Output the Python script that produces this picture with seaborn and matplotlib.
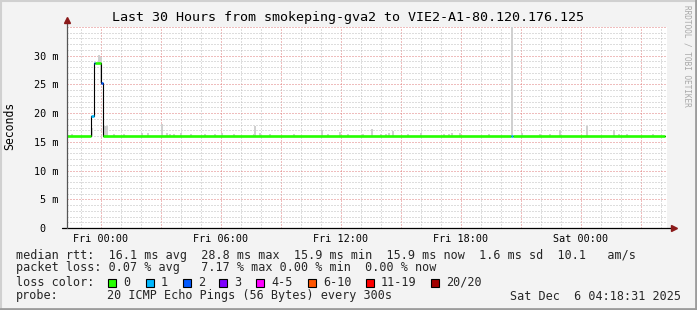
import matplotlib
matplotlib.use("Agg")
import matplotlib.pyplot as plt
import seaborn as sns
import pandas as pd
import numpy as np
from matplotlib.ticker import MultipleLocator, FuncFormatter
from matplotlib.patches import Rectangle
from matplotlib.lines import Line2D
import datetime as dt

# ---------------- data ----------------
# hours relative to Fri 2025-12-05 00:00
x_start, x_end = -1.69, 28.31
y_max = 35.0  # ms

# median rtt step series (segment start times, values in ms, loss count per segment)
med_t = [-1.69, -0.475, -0.365, -0.28, 0.015, 0.085, 20.50, 20.60, 28.20]
med_v = [16.0, 19.5, 28.8, 28.8, 25.3, 16.0, 16.0, 16.0, 16.0]
med_loss = [0, 1, 2, 0, 2, 0, 1, 0, 0]

# smoke (ping spread) bars: time (h), low (ms), high (ms)
smoke_t = [-1.45, -0.45, -0.10, 0.00, 0.20, 0.30, 0.65, 1.15, 2.05, 2.35, 3.05, 3.30,
           3.45, 3.65, 4.00, 4.50, 5.20, 5.70, 6.05, 6.65, 7.65, 7.70, 7.95, 8.45,
           9.65, 11.05, 11.35, 11.95, 12.35, 13.10, 13.55, 14.00, 14.25, 14.40,
           14.60, 15.35, 16.00, 17.15, 17.40, 17.55, 17.95, 19.40, 20.55, 21.05,
           21.95, 22.45, 22.95, 24.30, 25.65, 25.90, 26.30, 27.60]
smoke_lo = [16.0, 16.0, 28.8, 25.3, 16.0, 16.0, 16.0, 16.0, 16.0, 16.0, 16.0, 16.0,
            16.0, 16.0, 16.0, 16.0, 16.0, 16.0, 16.0, 16.0, 16.0, 16.0, 16.0, 16.0,
            16.0, 16.0, 16.0, 16.0, 16.0, 16.0, 16.0, 16.0, 16.0, 16.0,
            16.0, 16.0, 16.0, 16.0, 16.0, 16.0, 16.0, 16.0, 16.0, 16.0,
            16.0, 16.0, 16.0, 16.0, 16.0, 16.0, 16.0, 16.0]
smoke_hi = [16.45, 17.4, 30.2, 29.8, 17.7, 17.7, 16.45, 16.45, 16.55, 16.6, 18.05, 16.6,
            16.3, 16.3, 16.55, 16.45, 16.45, 16.45, 16.6, 16.3, 16.45, 17.7, 16.55, 16.3,
            16.3, 17.1, 16.3, 16.7, 16.3, 16.45, 17.2, 16.45, 16.45, 16.55,
            16.9, 16.45, 16.55, 16.45, 16.45, 16.55, 16.55, 16.45, 40.0, 16.6,
            16.45, 16.3, 17.0, 17.8, 17.0, 16.45, 16.45, 16.45]

loss_labels = ["0", "1", "2", "3", "4-5", "6-10", "11-19", "20/20"]
loss_colors = ["#26ff00", "#00b8ff", "#0059ff", "#7e00ff", "#ff00ff", "#ff5500", "#ff0000", "#a10000"]
seg_colors = {0: "#26ff00", 1: "#00b8ff", 2: "#0059ff"}

title = "Last 30 Hours from smokeping-gva2 to VIE2-A1-80.120.176.125"
stats_line1 = "median rtt:  16.1 ms avg  28.8 ms max  15.9 ms min  15.9 ms now  1.6 ms sd  10.1   am/s"
stats_line2 = "packet loss: 0.07 % avg   7.17 % max 0.00 % min  0.00 % now"
probe_text = "20 ICMP Echo Pings (56 Bytes) every 300s"
stamp_text = "Sat Dec  6 04:18:31 2025"

# ---------------- figure ----------------
sns.set_theme(style="white")
plt.rcParams["font.family"] = ["DejaVu Sans Mono", "DejaVu Sans"]

W, H = 697, 310
fig = plt.figure(figsize=(W / 100, H / 100), dpi=100, facecolor="#f3f3f3")
ax = fig.add_axes([67 / W, (H - 228) / H, 600 / W, (228 - 27) / H])
ax.set_facecolor("white")
ax.set_xlim(x_start, x_end)
ax.set_ylim(0, y_max)

# grid
ax.xaxis.set_major_locator(MultipleLocator(3))
ax.xaxis.set_minor_locator(MultipleLocator(1))
ax.yaxis.set_major_locator(MultipleLocator(5))
ax.yaxis.set_minor_locator(MultipleLocator(1))
ax.grid(which="minor", color="#bdbdbd", linestyle=(0, (1, 2)), linewidth=0.72)
ax.grid(which="major", color="#e07c7c", linestyle=(0, (1, 2)), linewidth=0.72)
ax.set_axisbelow(True)

base = dt.datetime(2025, 12, 5)


def xfmt(v, pos):
    if abs(v - round(v)) > 1e-6 or int(round(v)) % 6 != 0:
        return ""
    d = base + dt.timedelta(hours=int(round(v)))
    return d.strftime("%a %H:%M")


def yfmt(v, pos):
    iv = int(round(v))
    if iv >= y_max:
        return ""
    if iv == 0:
        return "0  "
    return f"{iv} m"


ax.xaxis.set_major_formatter(FuncFormatter(xfmt))
ax.yaxis.set_major_formatter(FuncFormatter(yfmt))
ax.tick_params(axis="x", which="both", length=0, labelsize=7.3, pad=4, colors="black")
ax.tick_params(axis="y", which="major", length=3, width=0.8, color="#444444",
               labelsize=7.3, pad=3, labelcolor="black")
ax.tick_params(axis="y", which="minor", length=1.5, width=0.6, color="#888888")
for s in ax.spines.values():
    s.set_visible(False)

# smoke bars
smoke = pd.DataFrame({"t": smoke_t, "lo": smoke_lo, "hi": smoke_hi})
ax.bar(smoke["t"], smoke["hi"] - smoke["lo"], bottom=smoke["lo"], width=0.1,
       color="#d0d0d0", linewidth=0, zorder=2)

# median step line (black)
med = pd.DataFrame({"t": med_t, "v": med_v})
sns.lineplot(data=med, x="t", y="v", ax=ax, estimator=None, drawstyle="steps-post",
             color="black", linewidth=0.8, zorder=3, legend=False)

# loss-colored median segments
for i in range(len(med_t) - 1):
    ax.hlines(med_v[i], med_t[i], med_t[i + 1], colors=seg_colors[med_loss[i]],
              linewidth=1.9, zorder=4, capstyle="butt")

ax.set_xlabel("")
ax.set_ylabel("")

# axis lines with arrows
fig.add_artist(Line2D([62 / W, 672 / W], [(H - 228) / H] * 2, color="black", lw=0.9))
fig.add_artist(Line2D([67 / W] * 2, [(H - 228) / H, (H - 22) / H], color="#555555", lw=0.9))
fig.add_artist(Line2D([674 / W], [(H - 228) / H], marker=">", color="#8b1a1a",
                      markersize=5, linestyle="none"))
fig.add_artist(Line2D([67 / W], [(H - 20) / H], marker="^", color="#8b1a1a",
                      markersize=5, linestyle="none"))

# texts
fig.text(0.5, 1 - 18 / H, title, ha="center", va="center", fontsize=9.6, color="black")
fig.text(10 / W, 1 - 126 / H, "Seconds", rotation=90, ha="center", va="center",
         fontsize=8.3, color="black")
fig.text(687 / W, 1 - 5 / H, "RRDTOOL / TOBI OETIKER", rotation=-90, ha="center", va="top",
         fontsize=5.6, color="#a8a8a8")

fs = 8.5
fig.text(16 / W, 1 - 255 / H, stats_line1, ha="left", va="center", fontsize=fs)
fig.text(16 / W, 1 - 268 / H, stats_line2, ha="left", va="center", fontsize=fs)
fig.text(16 / W, 1 - 282 / H, "loss color:", ha="left", va="center", fontsize=fs)
fig.text(16 / W, 1 - 296 / H, "probe:", ha="left", va="center", fontsize=fs)
fig.text(107 / W, 1 - 296 / H, probe_text, ha="left", va="center", fontsize=fs)
fig.text(681 / W, 1 - 296 / H, stamp_text, ha="right", va="center", fontsize=fs)

sq_x = [108, 146, 183, 219, 256, 308, 366, 431]
for sx, lab, col in zip(sq_x, loss_labels, loss_colors):
    fig.add_artist(Rectangle((sx / W, (H - 286.5) / H), 8 / W, 8 / H, facecolor=col,
                             edgecolor="black", linewidth=0.8))
    fig.text((sx + 15) / W, 1 - 282 / H, lab, ha="left", va="center", fontsize=fs)

# frame border
fig.add_artist(Line2D([0, 1], [1 - 1 / H] * 2, color="#d0d0d0", lw=1.5))
fig.add_artist(Line2D([1 / W] * 2, [0, 1], color="#d0d0d0", lw=1.5))
fig.add_artist(Line2D([0, 1], [1.5 / H] * 2, color="#9c9c9c", lw=2))
fig.add_artist(Line2D([1 - 1.5 / W] * 2, [0, 1], color="#9c9c9c", lw=2))

fig.savefig("out.png", dpi=100, facecolor=fig.get_facecolor())
